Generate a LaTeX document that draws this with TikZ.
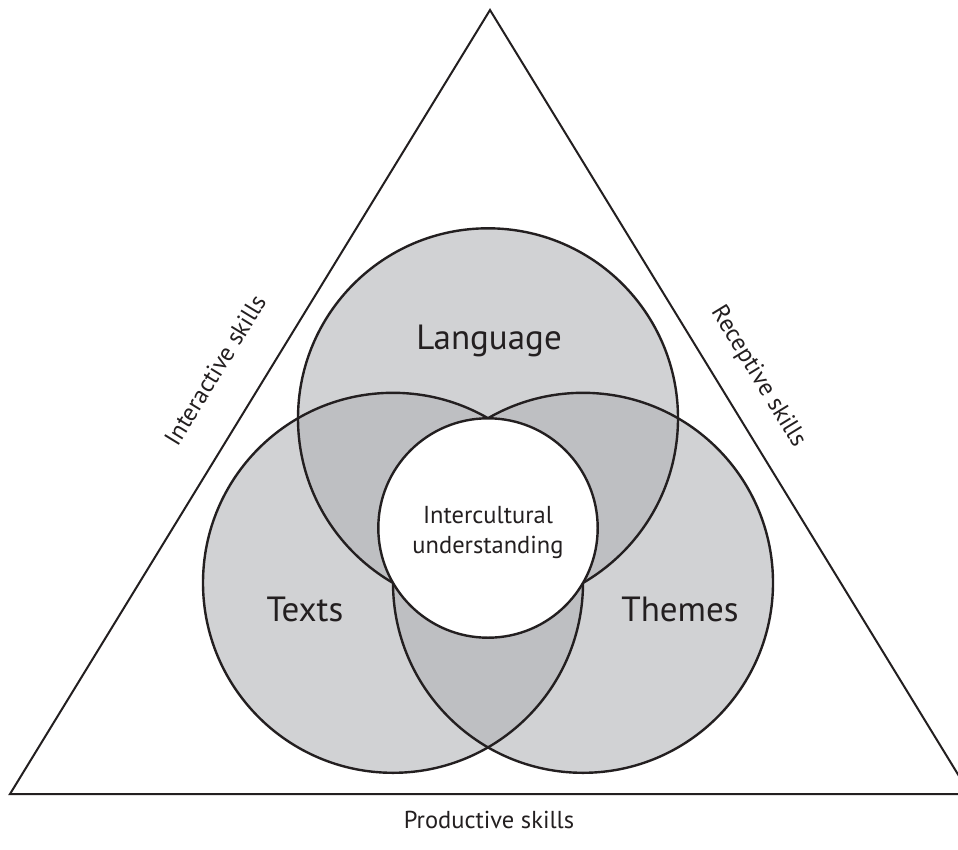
\documentclass[tikz,border=0pt]{standalone}
\usepackage{fontspec}
\setmainfont{PT Sans}
\definecolor{lightg}{RGB}{209,210,212}
\definecolor{darkg}{RGB}{190,191,194}
\definecolor{ink}{RGB}{35,31,32}
\tikzset{
  venn/.style={draw=ink, line width=2.4pt},
  tri/.style={draw=ink, line width=2pt, line join=miter},
  biglbl/.style={font=\fontsize{35}{40}\selectfont, text=ink, inner sep=0pt, anchor=base},
  smalllbl/.style={font=\fontsize{24.5}{30}\selectfont, text=ink, inner sep=0pt, anchor=base},
  sidelbl/.style={font=\fontsize{24.5}{28}\selectfont, text=ink, inner sep=0pt},
}
\begin{document}
\begin{tikzpicture}[x=1pt,y=-1pt]
\useasboundingbox (0,0) rectangle (958,849);
\clip (0,0) rectangle (958,849);
\fill[white] (0,0) rectangle (958,849);
% triangle
\coordinate (apex) at (490,10);
\coordinate (bl) at (10,794);
\coordinate (br) at (970,794);
\draw[tri] (apex) -- (bl) -- (br) -- cycle;
% circle centres
\coordinate (L) at (488,418.3);
\coordinate (T) at (393,582.8);
\coordinate (H) at (583,582.8);
% fills
\fill[lightg] (L) circle (190) (T) circle (190) (H) circle (190);
\begin{scope}
  \clip (L) circle (190);
  \fill[darkg] (T) circle (190) (H) circle (190);
\end{scope}
\begin{scope}
  \clip (T) circle (190);
  \fill[darkg] (H) circle (190);
\end{scope}
% outlines
\draw[venn] (L) circle (190);
\draw[venn] (T) circle (190);
\draw[venn] (H) circle (190);
% centre circle
\node[circle, fill=white, draw=ink, line width=2.4pt, minimum size=219.4pt, inner sep=0pt] (ic) at (488,528) {};
\node[smalllbl] (ic1) at (488,523) {Intercultural};
\node[smalllbl] (ic2) at (488,553) {understanding};
% labels
\node[biglbl] (lang) at (489,349) {Language};
\node[biglbl] (texts) at (305,621) {Texts};
\node[biglbl] (themes) at (680,621) {Themes};
\node[sidelbl, rotate=58.5] (inter) at (215,370) {Interactive skills};
\node[sidelbl, rotate=-58.5] (recep) at (758,377) {Receptive skills};
\node[sidelbl] (prod) at (489,820) {Productive skills};
\end{tikzpicture}
\end{document}
